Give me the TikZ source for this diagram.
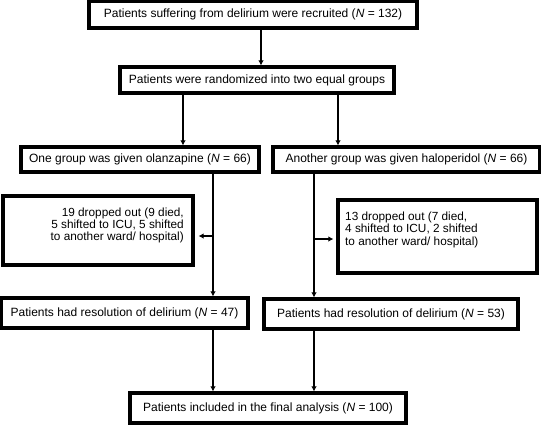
\documentclass[tikz,border=0pt]{standalone}
\usepackage{fontspec}
\setmainfont{Liberation Sans}
\usetikzlibrary{arrows.meta}
\tikzset{
  box/.style={draw=black, line width=3.2pt, inner sep=0pt, font=\fontsize{12}{13}\selectfont},
  txt/.style={inner sep=0pt, font=\fontsize{11.8}{12.2}\selectfont},
  arr/.style={line width=2.2pt, -{Latex[length=5pt,width=5.5pt]}},
}
\begin{document}
\begin{tikzpicture}[x=1pt,y=1pt]
\useasboundingbox (0,0) rectangle (541,-424);
\node[box, minimum width=328, minimum height=27] (b1) at (253,-14.5) {Patients suffering from delirium were recruited (\textit{N} = 132)};
\node[box, minimum width=274, minimum height=26] (b2) at (257,-80) {Patients were randomized into two equal groups};
\node[box, minimum width=238, minimum height=25] (gL) at (140,-159.5) {One group was given olanzapine (\textit{N} = 66)};
\node[box, minimum width=267, minimum height=25] (gR) at (406.5,-159.5) {Another group was given haloperidol (\textit{N} = 66)};
\node[box, minimum width=190, minimum height=69] (dL) at (98,-230.5) {};
\node[txt, align=right, anchor=north east] (dLt) at (184,-207.5) {19 dropped out (9 died,\\5 shifted to ICU, 5 shifted\\to another ward/ hospital)};
\node[box, minimum width=199, minimum height=73] (dR) at (437.5,-236.5) {};
\node[txt, align=left, anchor=north west] (dRt) at (345,-212) {13 dropped out (7 died,\\4 shifted to ICU, 2 shifted\\to another ward/ hospital)};
\node[box, minimum width=247, minimum height=30] (rL) at (124.5,-313) {Patients had resolution of delirium (\textit{N} = 47)};
\node[box, minimum width=254, minimum height=30] (rR) at (391,-314) {Patients had resolution of delirium (\textit{N} = 53)};
\node[box, minimum width=276, minimum height=30] (fin) at (268,-408) {Patients included in the final analysis (\textit{N} = 100)};
\coordinate (jL) at (213,-236);
\coordinate (jR) at (314,-239);
\draw[arr] (b1.south -| 261,0) -- (b2.north -| 261,0);
\draw[arr] (b2.south -| 183,0) -- (gL.north -| 183,0);
\draw[arr] (b2.south -| 338,0) -- (gR.north -| 338,0);
\draw[arr] (gL.south -| jL) -- (rL.north -| jL);
\draw[arr] (gR.south -| jR) -- (rR.north -| jR);
\draw[arr, shorten >=4pt] (jL) -- (jL -| dL.east);
\draw[arr, shorten >=3pt] (jR) -- (jR -| dR.west);
\draw[arr] (rL.south -| jL) -- (fin.north -| jL);
\draw[arr] (rR.south -| jR) -- (fin.north -| jR);
\end{tikzpicture}
\end{document}
